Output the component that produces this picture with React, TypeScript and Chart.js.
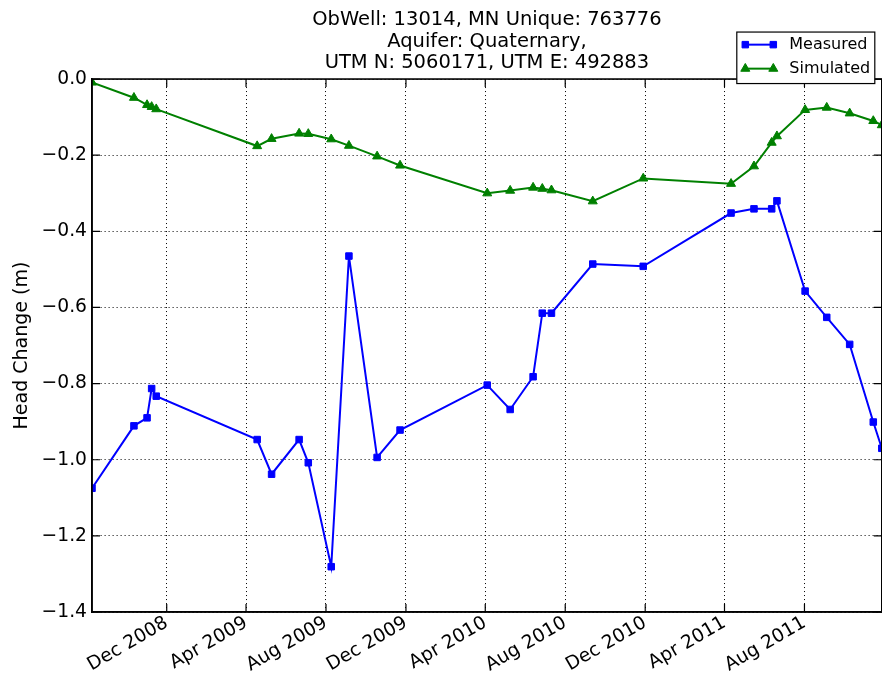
import { useEffect, useRef } from "react";
import { Chart, registerables } from "chart.js";
import { drawPoint } from "chart.js/helpers";

Chart.register(...registerables);

const FONT = "'DejaVu Sans', 'Liberation Sans', sans-serif";

const titleLines = [
  "ObWell: 13014, MN Unique: 763776",
  "Aquifer: Quaternary,",
  "UTM N: 5060171, UTM E: 492883",
];

const yAxisLabel = "Head Change (m)";

const sampleDates = [
  "2008-08-09", "2008-10-12", "2008-11-01", "2008-11-08", "2008-11-15",
  "2009-04-18", "2009-05-10", "2009-06-21", "2009-07-05", "2009-08-09",
  "2009-09-05", "2009-10-18", "2009-11-22", "2010-04-04", "2010-05-09",
  "2010-06-13", "2010-06-27", "2010-07-11", "2010-09-12", "2010-11-28",
  "2011-04-11", "2011-05-16", "2011-06-12", "2011-06-20", "2011-08-02",
  "2011-09-04", "2011-10-09", "2011-11-14", "2011-11-27",
];

const measured = [
  -1.075, -0.911, -0.890, -0.813, -0.833,
  -0.947, -1.038, -0.947, -1.008, -1.281,
  -0.465, -0.994, -0.922, -0.804, -0.868,
  -0.782, -0.615, -0.615, -0.486, -0.492,
  -0.352, -0.341, -0.341, -0.320, -0.557,
  -0.626, -0.697, -0.901, -0.970,
];

const simulated = [
  -0.009, -0.049, -0.068, -0.073, -0.079,
  -0.176, -0.157, -0.143, -0.144, -0.158,
  -0.175, -0.203, -0.227, -0.300, -0.293,
  -0.285, -0.288, -0.292, -0.321, -0.261,
  -0.275, -0.229, -0.167, -0.150, -0.081,
  -0.075, -0.090, -0.110, -0.121,
];

const tickDates = [
  "2008-12-01", "2009-04-01", "2009-08-01", "2009-12-01", "2010-04-01",
  "2010-08-01", "2010-12-01", "2011-04-01", "2011-08-01",
];
const tickLabels = [
  "Dec 2008", "Apr 2009", "Aug 2009", "Dec 2009", "Apr 2010",
  "Aug 2010", "Dec 2010", "Apr 2011", "Aug 2011",
];

const yMin = -1.4;
const yMax = 0;
const yStep = 0.2;

const toMs = (s: string) => Date.parse(s + "T00:00:00Z");

const fmtY = (v: number | string) => {
  const n = Number(v);
  const s = Math.abs(n).toFixed(1);
  return n < -1e-9 ? "\u2212" + s : s;
};

const framePlugin = {
  id: "mplFrame",
  afterDraw(chart: any) {
    const { ctx, chartArea: a, scales } = chart;
    ctx.save();
    ctx.setLineDash([]);
    ctx.strokeStyle = "#000";
    ctx.lineWidth = 1.6;
    ctx.strokeRect(a.left, a.top, a.right - a.left, a.bottom - a.top);
    // inward tick marks on all four sides
    const TL = 8;
    ctx.lineWidth = 1.2;
    ctx.beginPath();
    for (const t of scales.x.ticks) {
      const px = scales.x.getPixelForValue(t.value);
      ctx.moveTo(px, a.bottom);
      ctx.lineTo(px, a.bottom - TL);
      ctx.moveTo(px, a.top);
      ctx.lineTo(px, a.top + TL);
    }
    for (const t of scales.y.ticks) {
      const py = scales.y.getPixelForValue(t.value);
      ctx.moveTo(a.left, py);
      ctx.lineTo(a.left + TL, py);
      ctx.moveTo(a.right, py);
      ctx.lineTo(a.right - TL, py);
    }
    ctx.stroke();

    // legend box (matplotlib style)
    const boxRight = a.right - 7;
    const boxW = 138;
    const boxLeft = boxRight - boxW;
    const boxTop = a.top - 47;
    const boxH = 51.5;
    ctx.fillStyle = "#fff";
    ctx.fillRect(boxLeft, boxTop, boxW, boxH);
    ctx.lineWidth = 1.2;
    ctx.strokeStyle = "#000";
    ctx.strokeRect(boxLeft, boxTop, boxW, boxH);
    ctx.font = "16px " + FONT;
    ctx.textBaseline = "middle";
    ctx.textAlign = "left";
    chart.data.datasets.forEach((ds: any, i: number) => {
      const y = boxTop + 12.6 + i * 24;
      const x0 = boxLeft + 8.5;
      const x1 = boxLeft + 36.5;
      ctx.strokeStyle = ds.borderColor;
      ctx.fillStyle = ds.pointBackgroundColor;
      ctx.lineWidth = ds.borderWidth;
      ctx.beginPath();
      ctx.moveTo(x0, y);
      ctx.lineTo(x1, y);
      ctx.stroke();
      const opts = { pointStyle: ds.pointStyle, radius: ds.pointRadius, borderWidth: 1, rotation: 0 };
      ctx.lineWidth = 1;
      drawPoint(ctx, opts, x0, y);
      drawPoint(ctx, opts, x1, y);
      ctx.fillStyle = "#000";
      ctx.fillText(ds.label, boxLeft + 52.5, y + 0.5);
    });
    ctx.restore();
  },
};

const CANVAS_W = 888;
const CANVAS_H = 688;

export default function App() {
  const canvasRef = useRef<HTMLCanvasElement | null>(null);

  useEffect(() => {
    const canvas = canvasRef.current;
    if (!canvas) return;
    const xs = sampleDates.map(toMs);
    const chart = new Chart(canvas, {
      type: "line",
      data: {
        datasets: [
          {
            label: "Measured",
            data: xs.map((x, i) => ({ x, y: measured[i] })),
            borderColor: "#0000ff",
            backgroundColor: "#0000ff",
            pointBackgroundColor: "#0000ff",
            pointBorderColor: "#0000ff",
            pointStyle: "rect",
            pointRadius: 4.6,
            pointBorderWidth: 1,
            borderWidth: 2,
            tension: 0,
            clip: 0,
          },
          {
            label: "Simulated",
            data: xs.map((x, i) => ({ x, y: simulated[i] })),
            borderColor: "#008000",
            backgroundColor: "#008000",
            pointBackgroundColor: "#008000",
            pointBorderColor: "#008000",
            pointStyle: "triangle",
            pointRadius: 5.2,
            pointBorderWidth: 1,
            borderWidth: 2,
            tension: 0,
            clip: 0,
          },
        ],
      } as any,
      options: {
        animation: false,
        responsive: false,
        events: [],
        layout: { padding: { left: 0, right: 0, top: 0, bottom: 0 } },
        plugins: {
          legend: { display: false },
          tooltip: { enabled: false },
          title: {
            display: true,
            text: titleLines,
            fullSize: false,
            color: "#000",
            font: { size: 19.5, family: FONT, weight: "normal", lineHeight: 1.1 },
            padding: { top: 9.5, bottom: 5.2 },
          },
        },
        scales: {
          x: {
            type: "linear",
            min: xs[0],
            max: xs[xs.length - 1],
            afterBuildTicks(scale: any) {
              scale.ticks = tickDates.map((d) => ({ value: toMs(d) }));
            },
            afterFit(scale: any) {
              scale.height = 76;
              scale.paddingRight = 0;
              scale.paddingLeft = 0;
            },
            ticks: {
              autoSkip: false,
              minRotation: 30,
              maxRotation: 30,
              padding: 0,
              color: "#000",
              font: { size: 18.7, family: FONT },
              callback: (_v: any, i: number) => tickLabels[i],
            },
            grid: { color: "#000", lineWidth: 1, drawTicks: false },
            border: { display: true, color: "#000", width: 1.6, dash: [1, 3] },
          },
          y: {
            type: "linear",
            min: yMin,
            max: yMax,
            afterFit(scale: any) {
              scale.width = 92;
              scale.paddingTop = 0;
              scale.paddingBottom = 0;
            },
            ticks: {
              stepSize: yStep,
              padding: 5,
              color: "#000",
              font: { size: 18.7, family: FONT },
              callback: (v: any) => fmtY(v),
            },
            grid: { color: "#000", lineWidth: 1, drawTicks: false },
            border: { display: true, color: "#000", width: 1.6, dash: [1, 3] },
            title: {
              display: true,
              text: yAxisLabel,
              color: "#000",
              font: { size: 19, family: FONT },
              padding: { top: 11, bottom: 0 },
            },
          },
        },
      } as any,
      plugins: [framePlugin],
    });
    return () => chart.destroy();
  }, []);

  return (
    <div style={{ position: "fixed", left: 0, top: 0, width: CANVAS_W, height: CANVAS_H, background: "#fff" }}>
      <canvas ref={canvasRef} width={CANVAS_W} height={CANVAS_H} style={{ display: "block" }} />
    </div>
  );
}
